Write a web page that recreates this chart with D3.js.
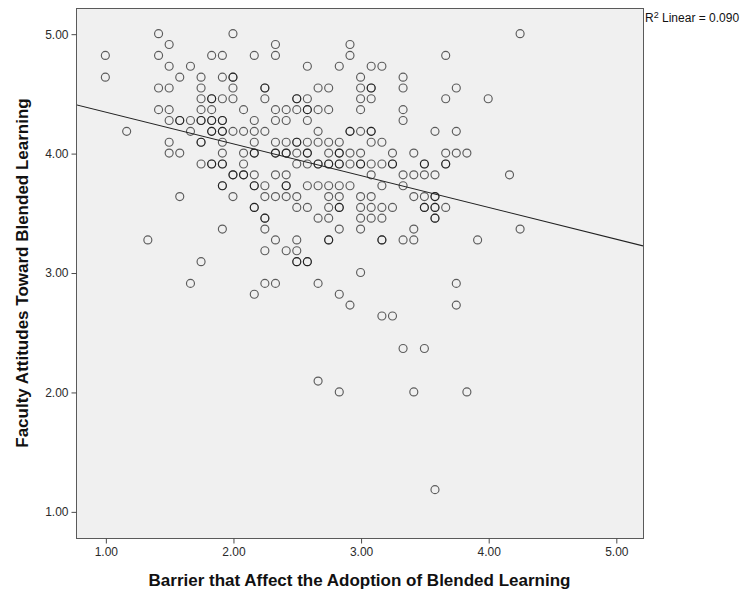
<!DOCTYPE html>
<html>
<head>
<meta charset="utf-8">
<script src="https://cdn.jsdelivr.net/npm/d3@7"></script>
<style>
  html, body { margin: 0; padding: 0; background: #ffffff; }
  svg { display: block; }
  text { font-family: "Liberation Sans", Arial, sans-serif; }
</style>
</head>
<body>
<svg id="chart" width="749" height="594"></svg>
<script>
// ---- Data ----
const xTickValues = [1, 2, 3, 4, 5];
const yTickValues = [1, 2, 3, 4, 5];
const xTitle = "Barrier that Affect the Adoption of Blended Learning";
const yTitle = "Faculty Attitudes Toward Blended Learning";
const fitLabel = "0.090";

// Attitude score levels (y) and the barrier scores (x) observed at each level
const attitudeLevels = [5.000, 4.909, 4.818, 4.727, 4.636, 4.545, 4.455, 4.364, 4.273, 4.182,
  4.091, 4.000, 3.909, 3.818, 3.727, 3.636, 3.545, 3.455, 3.364, 3.273, 3.182, 3.091, 3.000,
  2.909, 2.818, 2.727, 2.636, 2.364, 2.091, 2.000, 1.182];
const barrierScores = [
  [1.417, 2.000, 4.250],
  [1.500, 2.333, 2.917],
  [1.000, 1.417, 1.833, 1.917, 2.167, 2.333, 2.917, 3.667],
  [1.500, 1.667, 2.583, 2.833, 3.083, 3.167],
  [1.000, 1.583, 1.750, 1.917, 2.000, 2.000, 3.000, 3.333],
  [1.417, 1.500, 1.750, 2.000, 2.250, 2.250, 2.667, 2.750, 3.000, 3.083, 3.083, 3.333, 3.750],
  [1.750, 1.833, 1.833, 1.917, 2.000, 2.250, 2.500, 2.500, 2.583, 3.000, 3.083, 3.667, 4.000],
  [1.417, 1.500, 1.750, 1.833, 2.083, 2.333, 2.417, 2.500, 2.583, 2.583, 2.667, 2.750, 3.000, 3.333],
  [1.500, 1.583, 1.583, 1.667, 1.750, 1.750, 1.833, 1.833, 1.917, 1.917, 2.167, 2.333, 2.417, 2.583, 3.333],
  [1.167, 1.667, 1.833, 1.833, 1.917, 1.917, 2.000, 2.083, 2.167, 2.250, 2.667, 2.917, 2.917, 3.000, 3.083, 3.083, 3.583, 3.750],
  [1.500, 1.750, 1.750, 1.917, 2.167, 2.333, 2.417, 2.500, 2.500, 2.583, 2.667, 2.750, 2.833, 3.083, 3.167],
  [1.500, 1.583, 1.917, 2.083, 2.167, 2.167, 2.333, 2.333, 2.417, 2.417, 2.500, 2.583, 2.583, 2.750, 2.833, 2.833, 2.917, 3.000, 3.250, 3.417, 3.667, 3.750, 3.833],
  [1.750, 1.833, 1.833, 1.917, 1.917, 2.083, 2.500, 2.583, 2.667, 2.667, 2.750, 2.750, 2.833, 2.833, 2.917, 3.000, 3.000, 3.083, 3.167, 3.250, 3.250, 3.500, 3.500, 3.667, 3.667],
  [2.000, 2.000, 2.083, 2.083, 2.167, 2.333, 2.417, 3.083, 3.333, 3.417, 3.500, 3.583, 4.167],
  [1.917, 1.917, 2.167, 2.167, 2.250, 2.417, 2.417, 2.583, 2.667, 2.750, 2.833, 2.917, 3.167, 3.333],
  [1.583, 2.000, 2.250, 2.333, 2.417, 2.500, 2.750, 2.833, 3.000, 3.083, 3.417, 3.500, 3.583, 3.583],
  [2.167, 2.167, 2.500, 2.583, 2.750, 2.833, 2.833, 3.000, 3.083, 3.167, 3.250, 3.500, 3.500, 3.583, 3.583, 3.667],
  [2.250, 2.250, 2.667, 2.750, 3.000, 3.083, 3.167, 3.583, 3.583],
  [1.917, 2.250, 2.833, 3.000, 3.417, 4.250],
  [1.333, 2.333, 2.500, 2.750, 2.750, 3.167, 3.167, 3.333, 3.417, 3.917],
  [2.250, 2.417, 2.500],
  [1.750, 2.500, 2.500, 2.583, 2.583],
  [3.000],
  [1.667, 2.250, 2.333, 2.667, 3.750],
  [2.167, 2.833],
  [2.917, 3.750],
  [3.167, 3.250],
  [3.333, 3.500],
  [2.667],
  [2.833, 3.417, 3.833],
  [3.583]
];

// Linear fit
const fitCoefficients = [4.61, -0.266]; // intercept, slope

// ---- Build the point table ----
const points = [];
attitudeLevels.forEach((yv, k) => {
  barrierScores[k].forEach(xv => points.push({ x: xv, y: yv }));
});

// ---- Layout ----
const svg = d3.select("#chart");
const plot = { left: 76, right: 643, top: 8, bottom: 538 };

const x = d3.scaleLinear().domain([0.77, 5.213]).range([plot.left, plot.right]);
const y = d3.scaleLinear().domain([0.777, 5.215]).range([plot.bottom, plot.top]);

// Plot background
svg.append("rect")
  .attr("x", plot.left + 0.5).attr("y", plot.top + 0.5)
  .attr("width", plot.right - plot.left).attr("height", plot.bottom - plot.top)
  .attr("fill", "#f0f0f0")
  .attr("stroke", "#5a5a5a")
  .attr("stroke-width", 1);

// Clip for marks
svg.append("defs").append("clipPath").attr("id", "plotClip")
  .append("rect")
  .attr("x", plot.left + 1).attr("y", plot.top + 1)
  .attr("width", plot.right - plot.left - 1).attr("height", plot.bottom - plot.top - 1);

// Axes
const xAxis = d3.axisBottom(x).tickValues(xTickValues).tickFormat(d3.format(".2f"))
  .tickSizeInner(5).tickSizeOuter(0).tickPadding(4);
const yAxis = d3.axisLeft(y).tickValues(yTickValues).tickFormat(d3.format(".2f"))
  .tickSizeInner(5).tickSizeOuter(0).tickPadding(3);

const gx = svg.append("g").attr("transform", `translate(0.5,${plot.bottom + 0.5})`).call(xAxis);
const gy = svg.append("g").attr("transform", `translate(${plot.left + 0.5},0.5)`).call(yAxis);
[gx, gy].forEach(g => {
  g.select(".domain").remove();
  g.selectAll(".tick line").attr("stroke", "#4a4a4a");
  g.selectAll(".tick text")
    .attr("fill", "#2a2a2a")
    .style("font-family", "'Liberation Sans', Arial, sans-serif")
    .style("font-size", "12px");
});

// Points
svg.append("g").attr("clip-path", "url(#plotClip)")
  .selectAll("circle").data(points).join("circle")
  .attr("cx", d => x(d.x))
  .attr("cy", d => y(d.y))
  .attr("r", 4)
  .attr("fill", "none")
  .attr("stroke", "#000")
  .attr("stroke-opacity", 0.62)
  .attr("stroke-width", 1.15);

// Fit line
const xd = x.domain();
const fitPts = xd.map(v => ({ x: v, y: fitCoefficients[0] + fitCoefficients[1] * v }));
svg.append("g").attr("clip-path", "url(#plotClip)")
  .append("path")
  .attr("d", d3.line().x(d => x(d.x)).y(d => y(d.y))(fitPts))
  .attr("fill", "none")
  .attr("stroke", "#222")
  .attr("stroke-width", 1.1);

// R² label
const rl = svg.append("text")
  .attr("x", plot.right + 2).attr("y", 22)
  .attr("fill", "#111")
  .style("font-size", "12px");
rl.append("tspan").text("R");
rl.append("tspan").attr("dy", -4).style("font-size", "9px").text("2");
rl.append("tspan").attr("dy", 4).text(" Linear = " + fitLabel);

// Axis titles
svg.append("text")
  .attr("x", (plot.left + plot.right) / 2).attr("y", 586)
  .attr("text-anchor", "middle")
  .attr("fill", "#111")
  .style("font-size", "17px").style("font-weight", "bold")
  .text(xTitle);

svg.append("text")
  .attr("transform", `translate(28,${(plot.top + plot.bottom) / 2}) rotate(-90)`)
  .attr("text-anchor", "middle")
  .attr("fill", "#111")
  .style("font-size", "17px").style("font-weight", "bold")
  .text(yTitle);
</script>
</body>
</html>
